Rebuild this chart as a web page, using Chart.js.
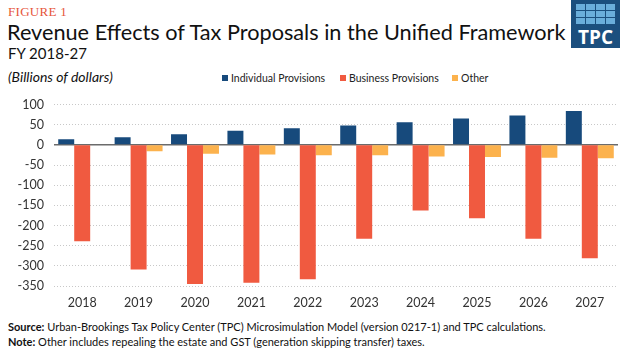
<!DOCTYPE html>
<html>
<head>
<meta charset="utf-8">
<script src="https://cdn.jsdelivr.net/npm/chart.js@4"></script>
<style>
  body { margin: 0; width: 620px; height: 353px; background: #fff; font-family: Lato, "Open Sans", sans-serif; position: relative; overflow: hidden; }
  .fig { position: absolute; left: 8px; top: 4px; font-family: "Liberation Serif", serif; font-size: 13px; color: #e6553a; letter-spacing: 0.3px; }
  .title { position: absolute; left: 7px; top: 19px; font-size: 21.7px; color: #111; white-space: nowrap; }
  .sub { position: absolute; left: 8px; top: 44px; font-size: 15px; color: #111; }
  .logo { position: absolute; left: 571px; top: 0; width: 49px; height: 48px; background: #1b4f7e; }
  .logo .sq { position: absolute; width: 9px; height: 6px; background: #6aaedb; }
  .logo .t { position: absolute; left: 0; width: 49px; top: 24px; text-align: center; color: #fff; font: bold 19px "Open Sans", sans-serif; }
  .units { position: absolute; left: 8px; top: 68px; font-size: 14px; font-style: italic; color: #111; }
  .legend { position: absolute; top: 72px; font-size: 10.5px; color: #222; white-space: nowrap; }
  .legend i { display: inline-block; width: 6px; height: 6px; margin-right: 3px; vertical-align: 1px; }
  .wrap { position: absolute; left: 0; top: 87px; width: 620px; height: 224px; }
  .foot { position: absolute; left: 8px; font-size: 11px; color: #111; white-space: nowrap; }
</style>
</head>
<body>
<div class="fig">FIGURE 1</div>
<div class="title">Revenue Effects of Tax Proposals in the Unified Framework</div>
<div class="sub">FY 2018-27</div>
<div class="logo" id="logo"><div class="t">TPC</div></div>
<div class="units">(Billions of dollars)</div>
<div id="legend"></div>
<div class="wrap"><canvas id="chart"></canvas></div>
<div class="foot" style="top:320px"><b>Source:</b> Urban-Brookings Tax Policy Center (TPC) Microsimulation Model (version 0217-1) and TPC calculations.</div>
<div class="foot" style="top:335px"><b>Note:</b> Other includes repealing the estate and GST (generation skipping transfer) taxes.</div>
<script>
const years = ['2018','2019','2020','2021','2022','2023','2024','2025','2026','2027'];
const seriesNames = ['Individual Provisions','Business Provisions','Other'];
const individual = [14, 19, 26, 35, 41, 48, 56, 65, 73, 84];
const business = [-239, -309, -345, -342, -333, -233, -163, -182, -233, -281];
const other = [0, -16, -22, -24, -26, -26, -29, -30, -32, -33];
const yTicks = [100, 50, 0, -50, -100, -150, -200, -250, -300, -350];
const colors = ['#174a7c', '#f05a40', '#fcb24d'];

// logo squares
const logo = document.getElementById('logo');
for (let r = 0; r < 3; r++) {
  for (let c = 0; c < 4; c++) {
    const s = document.createElement('div');
    s.className = 'sq';
    s.style.left = (5 + c * 10) + 'px';
    s.style.top = (4 + r * 7) + 'px';
    logo.appendChild(s);
  }
}

// legend
const legendX = [222, 340, 452];
const legend = document.getElementById('legend');
seriesNames.forEach((name, i) => {
  const d = document.createElement('div');
  d.className = 'legend';
  d.style.left = legendX[i] + 'px';
  d.innerHTML = `<i style="background:${colors[i]}"></i>${name}`;
  legend.appendChild(d);
});

const zeroLine = {
  id: 'zeroLine',
  beforeDatasetsDraw(chart) {
    const y = chart.scales.y.getPixelForValue(0);
    const ctx = chart.ctx;
    ctx.save();
    ctx.strokeStyle = '#6b6b6b';
    ctx.lineWidth = 1.5;
    ctx.beginPath();
    ctx.moveTo(chart.chartArea.left, y);
    ctx.lineTo(chart.chartArea.right, y);
    ctx.stroke();
    ctx.restore();
  }
};

new Chart(document.getElementById('chart'), {
  type: 'bar',
  data: {
    labels: years,
    datasets: [
      { label: seriesNames[0], data: individual, backgroundColor: colors[0] },
      { label: seriesNames[1], data: business, backgroundColor: colors[1] },
      { label: seriesNames[2], data: other, backgroundColor: colors[2] }
    ]
  },
  options: {
    responsive: true,
    maintainAspectRatio: false,
    animation: false,
    layout: { padding: { top: 6, right: 2, left: 0, bottom: 0 } },
    datasets: { bar: { categoryPercentage: 0.85, barPercentage: 1 } },
    plugins: { legend: { display: false }, tooltip: { enabled: false } },
    scales: {
      x: {
        grid: { display: false },
        border: { display: false },
        ticks: { color: '#333', font: { family: 'Lato', size: 12.5 }, padding: 1 }
      },
      y: {
        min: -350,
        max: 100,
        afterBuildTicks(scale) { scale.ticks = yTicks.map(v => ({ value: v })); },
        afterFit(scale) { scale.width = 54; },
        grid: { color: '#c8c8c8', drawTicks: false },
        border: { display: false, dash: [1, 2] },
        ticks: { color: '#333', font: { family: 'Lato', size: 12.5 }, padding: 10 }
      }
    }
  },
  plugins: [zeroLine]
});
</script>
</body>
</html>
